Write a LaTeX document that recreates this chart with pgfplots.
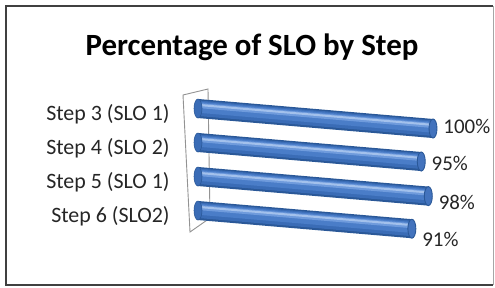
\documentclass[border=0pt]{standalone}
\usepackage{fontspec}
\setmainfont{Carlito}
\usepackage{pgfplots}
\usepackage{pgfplotstable}
\pgfplotsset{compat=1.18}
\usetikzlibrary{calc}
\pgfdeclarelayer{background}
\pgfsetlayers{background,main}

\definecolor{cylA}{HTML}{2A5898}
\definecolor{cylB}{HTML}{3A6CB6}
\definecolor{cylC}{HTML}{4A7DC8}
\definecolor{cylD}{HTML}{6F9BDC}
\definecolor{cylE}{HTML}{A3C1EC}
\definecolor{capF}{HTML}{4373BD}

\pgfplotstableread{
y value
0 100
1 95
2 98
3 91
}\datatable

\begin{document}
\begin{tikzpicture}
\begin{axis}[
  x={(2.35bp,-0.2bp)}, y={(0bp,-34bp)},
  xmin=-12, xmax=105, ymin=-0.6, ymax=3.6,
  clip=false,
  /pgf/number format/assume math mode=true,
  axis line style={draw=none},
  tick style={draw=none},
  xtick=\empty,
  ytick={0,1,2,3},
  yticklabels={Step 3 (SLO 1), Step 4 (SLO 2), Step 5 (SLO 1), Step 6 (SLO2)},
  yticklabel style={anchor=east, inner sep=0pt, xshift=0bp, yshift=-8bp,
    font=\fontsize{22}{22}\selectfont, text=black!85},
]
\coordinate (O) at (axis cs:0,0);
% left caps of the cylinders
\addplot[only marks, mark=*, mark size=9.5bp,
  mark options={xscale=0.42, fill=cylB, draw=cylA, line width=0.6bp}]
  table[x expr=0, y=y] {\datatable};
% cylinder bodies (layered for shading)
\addplot[quiver={u=\thisrow{value}, v=0}, -, line width=19bp, draw=cylA]
  table[x expr=0, y=y] {\datatable};
\addplot[quiver={u=\thisrow{value}, v=0}, -, line width=15.5bp, draw=cylB, yshift=0.3bp]
  table[x expr=0, y=y] {\datatable};
\addplot[quiver={u=\thisrow{value}, v=0}, -, line width=11bp, draw=cylC, yshift=1.3bp]
  table[x expr=0, y=y] {\datatable};
\addplot[quiver={u=\thisrow{value}, v=0}, -, line width=5bp, draw=cylD, yshift=3bp]
  table[x expr=0, y=y] {\datatable};
\addplot[quiver={u=\thisrow{value}, v=0}, -, line width=2bp, draw=cylE, yshift=3.6bp]
  table[x expr=0, y=y] {\datatable};
% right end caps with value labels
\addplot[only marks, mark=*, mark size=9.5bp,
  mark options={xscale=0.42, fill=capF, draw=cylA, line width=0.9bp},
  point meta=x,
  visualization depends on={\thisrow{y} \as \cat},
  nodes near coords={\pgfmathprintnumber{\pgfplotspointmeta}\%},
  nodes near coords style={anchor=west, inner sep=0pt, xshift=10bp,
    yshift={(2-4.3*\cat)*1bp},
    font=\fontsize{21}{21}\selectfont, text=black!85}]
  table[x=value, y=y] {\datatable};
\end{axis}

\begin{pgfonlayer}{background}
\begin{scope}[shift={($(O)+(-198bp,108.5bp)$)}, x=1bp, y=-1bp]
  \fill[white] (0,0) rectangle (495,287);
  \draw[gray!85, line width=0.9bp, fill=white]
    (183,95) -- (208,89) -- (210,218) -- (190,232) -- cycle;
\end{scope}
\end{pgfonlayer}

\begin{scope}[shift={($(O)+(-198bp,108.5bp)$)}, x=1bp, y=-1bp]
  \node[font=\bfseries\fontsize{31}{31}\selectfont] at (252,47) {Percentage of SLO by Step};
  \draw[black!75, line width=1.3bp] (493,285) -- (6,285) -- (6,6) -- (493,6);
  \draw[black!35, line width=1bp] (493,6) -- (493,285);
  \pgfresetboundingbox
  \path[use as bounding box] (0,0) rectangle (495,287);
\end{scope}
\end{tikzpicture}
\end{document}
